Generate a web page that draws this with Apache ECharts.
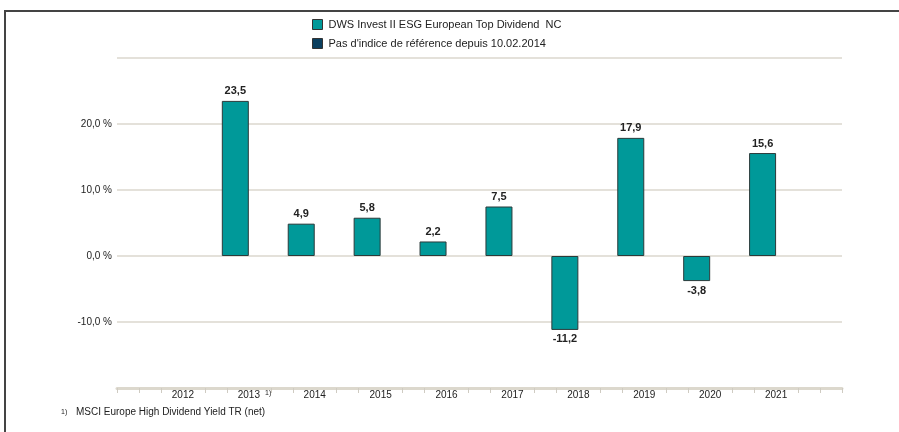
<!DOCTYPE html>
<html>
<head>
<meta charset="utf-8">
<script src="https://cdn.jsdelivr.net/npm/echarts@6/dist/echarts.min.js"></script>
<style>
  html, body { margin: 0; padding: 0; background: #fff; }
  #chart { width: 899px; height: 432px; }
</style>
</head>
<body>
<div id="chart"></div>
<script>
// years on the axis (last slot is empty, as in the original)
const categories = ['', '2012', '2013', '2014', '2015', '2016', '2017', '2018', '2019', '2020', '2021', '']
// annual performance in %
const fundValues = [null, null, 23.5, 4.9, 5.8, 2.2, 7.5, -11.2, 17.9, -3.8, 15.6, null]
const benchValues = [null, null, null, null, null, null, null, null, null, null, null, null]
const seriesNames = ['DWS Invest II ESG European Top Dividend  NC', "Pas d'indice de référence depuis 10.02.2014"]
const yTicks = [-20, -10, 0, 10, 20, 30]

const fmt = v => v.toFixed(1).replace('.', ',')

// small ticks every third of a year, skipped under the year labels
const tickSteps = []
for (let k = 0; k <= 33; k++) {
  if (k % 3 !== 0 || k === 0 || k === 33) tickSteps.push(k)
}

const myChart = echarts.init(document.getElementById('chart'))

const myOption = {
  backgroundColor: '#fff',
  textStyle: { fontFamily: 'Liberation Sans, Arial, sans-serif' },
  animation: false,

  legend: {
    orient: 'vertical',
    left: 307,
    top: 14,
    itemWidth: 10,
    itemHeight: 10,
    itemGap: 8,
    icon: 'rect',
    selectedMode: false,
    textStyle: { color: '#222', fontSize: 11, padding: [0, 0, 0, 1] },
    data: seriesNames.map(n => ({ name: n, itemStyle: { borderColor: '#333', borderWidth: 1 } }))
  },

  grid: { left: 117, right: 57, top: 58, bottom: 44 },

  xAxis: [
    {
      type: 'category',
      data: categories,
      boundaryGap: false,
      axisLine: { show: false },
      axisTick: { show: false },
      axisLabel: { color: '#222', fontSize: 10, margin: 2, interval: 0 },
      splitLine: { show: false }
    },
    {
      type: 'value',
      min: 0,
      max: 33,
      interval: 1,
      position: 'bottom',
      axisLine: { show: true, lineStyle: { color: '#dcd8cd', width: 3 } },
      axisTick: { show: true, length: 5, customValues: tickSteps, lineStyle: { color: '#cfcbc2', width: 1 } },
      axisLabel: { show: false },
      splitLine: { show: false }
    }
  ],

  yAxis: {
    type: 'value',
    min: yTicks[0],
    max: yTicks[yTicks.length - 1],
    interval: 10,
    axisLine: { show: false },
    axisTick: { show: false },
    axisLabel: {
      color: '#222',
      fontSize: 10,
      margin: 5,
      formatter: v => (v === yTicks[0] || v === yTicks[yTicks.length - 1]) ? '' : fmt(v) + ' %'
    },
    splitLine: { lineStyle: { color: '#e4e1da', width: 2 } }
  },

  series: [
    {
      name: seriesNames[0],
      type: 'bar',
      xAxisIndex: 0,
      data: fundValues,
      barWidth: 27,
      barGap: '0%',
      itemStyle: { color: '#009999', borderColor: '#2b3a3a', borderWidth: 1 },
      label: {
        show: true,
        position: 'top',
        fontSize: 11,
        fontWeight: 'bold',
        color: '#222',
        distance: 4,
        formatter: p => fmt(p.value)
      }
    },
    {
      name: seriesNames[1],
      type: 'bar',
      xAxisIndex: 0,
      data: benchValues,
      barWidth: 27,
      itemStyle: { color: '#0b3f5f', borderColor: '#333', borderWidth: 1 }
    }
  ],

  graphic: [
    { type: 'line', shape: { x1: 4, y1: 11, x2: 899, y2: 11 }, style: { stroke: '#444', lineWidth: 2 } },
    { type: 'line', shape: { x1: 5, y1: 11, x2: 5, y2: 432 }, style: { stroke: '#444', lineWidth: 2 } },
    { type: 'text', left: 265, top: 390, style: { text: '1)', fontSize: 7, fill: '#222', fontFamily: 'Liberation Sans, Arial, sans-serif' } },
    { type: 'text', left: 61, top: 409, style: { text: '1)', fontSize: 7, fill: '#222', fontFamily: 'Liberation Sans, Arial, sans-serif' } },
    { type: 'text', left: 76, top: 407, style: { text: 'MSCI Europe High Dividend Yield TR (net)', fontSize: 10, fill: '#222', fontFamily: 'Liberation Sans, Arial, sans-serif' } }
  ]
}

// negative bars get their label underneath
myOption.series[0].data = fundValues.map(v => (v !== null && v < 0)
  ? { value: v, label: { position: 'bottom' } }
  : v)

myChart.setOption(myOption)
</script>
</body>
</html>
